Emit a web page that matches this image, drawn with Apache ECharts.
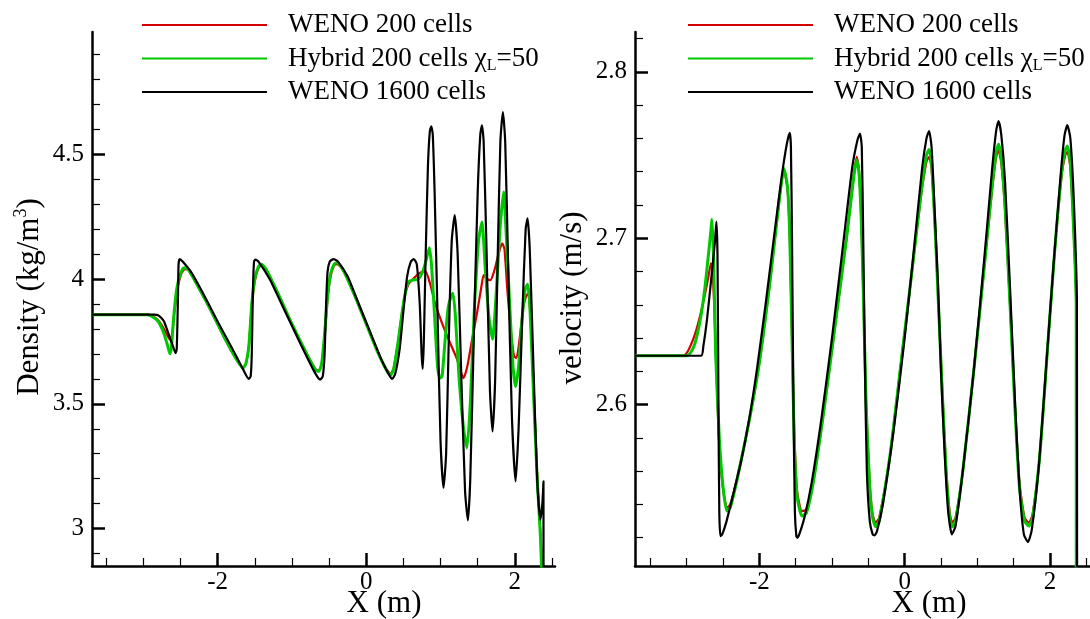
<!DOCTYPE html>
<html><head><meta charset="utf-8">
<script src="https://cdn.jsdelivr.net/npm/echarts@6/dist/echarts.min.js"></script>
<style>html,body{margin:0;padding:0;background:#fff}#c{width:1090px;height:619px}</style>
</head><body><div id="c"></div>
<script>
const seriesNames = ['WENO 200 cells', 'Hybrid 200 cells χL=50', 'WENO 1600 cells'];
const seriesColors = ['#d40000', '#00c800', '#000000'];

const xMajorTicks = [-2, 0, 2];
const xMinorTicks = [-3.5, -3, -2.5, -1.5, -1, -0.5, 0.5, 1, 1.5, 2.5];
const densMajorTicks = [3, 3.5, 4, 4.5];
const densMinorTicks = [2.9, 3.1, 3.2, 3.3, 3.4, 3.6, 3.7, 3.8, 3.9, 4.1, 4.2, 4.3, 4.4, 4.6, 4.7, 4.8, 4.9];
const velMajorTicks = [2.6, 2.7, 2.8];
const velMinorTicks = [2.52, 2.54, 2.56, 2.58, 2.62, 2.64, 2.66, 2.68, 2.72, 2.74, 2.76, 2.78, 2.82];

const densWeno200 = [[-3.69,3.857],[-2.95,3.857],[-2.88,3.852],[-2.80,3.835],[-2.72,3.80],[-2.67,3.77],[-2.635,3.756],[-2.61,3.78],[-2.58,3.87],[-2.54,3.96],[-2.49,4.02],[-2.44,4.04],[-2.38,4.035],[-2.3,3.99],[-2.1,3.88],[-1.9,3.76],[-1.75,3.68],[-1.66,3.645],[-1.62,3.66],[-1.58,3.73],[-1.54,3.89],[-1.50,3.99],[-1.45,4.045],[-1.41,4.055],[-1.35,4.04],[-1.2,3.95],[-1.0,3.82],[-0.8,3.70],[-0.68,3.638],[-0.64,3.632],[-0.60,3.66],[-0.56,3.77],[-0.52,3.92],[-0.48,4.01],[-0.43,4.055],[-0.39,4.06],[-0.3,4.03],[-0.15,3.93],[0.0,3.82],[0.15,3.71],[0.28,3.635],[0.33,3.62],[0.37,3.645],[0.43,3.75],[0.48,3.86],[0.525,3.94],[0.57,3.98],[0.63,4.0],[0.70,4.02],[0.76,4.03],[0.80,4.03],[0.86,3.98],[0.92,3.91],[0.98,3.855],[1.05,3.80],[1.13,3.743],[1.22,3.68],[1.27,3.63],[1.31,3.603],[1.36,3.65],[1.42,3.75],[1.49,3.863],[1.55,3.97],[1.58,4.016],[1.63,4.0],[1.67,3.996],[1.72,4.03],[1.78,4.10],[1.83,4.143],[1.86,4.12],[1.90,3.95],[1.95,3.78],[1.99,3.69],[2.02,3.683],[2.06,3.75],[2.11,3.88],[2.15,3.93],[2.18,3.943],[2.21,3.85],[2.26,3.5],[2.31,3.15],[2.35,2.95],[2.375,2.6],[2.38,1.0],[2.55,1.0]];

const densHybrid = [[-3.69,3.857],[-2.95,3.857],[-2.88,3.85],[-2.80,3.83],[-2.72,3.78],[-2.67,3.73],[-2.64,3.70],[-2.62,3.73],[-2.59,3.85],[-2.55,3.96],[-2.50,4.02],[-2.45,4.045],[-2.40,4.04],[-2.3,3.99],[-2.1,3.88],[-1.9,3.76],[-1.75,3.68],[-1.66,3.643],[-1.62,3.66],[-1.58,3.73],[-1.54,3.90],[-1.50,4.00],[-1.45,4.05],[-1.41,4.059],[-1.35,4.04],[-1.2,3.95],[-1.0,3.82],[-0.8,3.70],[-0.68,3.635],[-0.64,3.63],[-0.60,3.66],[-0.56,3.78],[-0.52,3.93],[-0.48,4.02],[-0.43,4.06],[-0.39,4.065],[-0.3,4.03],[-0.15,3.93],[0.0,3.82],[0.15,3.71],[0.28,3.63],[0.33,3.616],[0.37,3.64],[0.43,3.75],[0.48,3.86],[0.525,3.943],[0.57,3.99],[0.63,3.996],[0.70,4.0],[0.76,4.03],[0.81,4.08],[0.85,4.125],[0.88,4.05],[0.92,3.85],[0.96,3.65],[0.99,3.603],[1.02,3.61],[1.06,3.75],[1.10,3.88],[1.14,3.93],[1.167,3.943],[1.20,3.85],[1.25,3.6],[1.31,3.40],[1.355,3.323],[1.40,3.50],[1.45,3.85],[1.51,4.15],[1.557,4.229],[1.60,4.05],[1.65,3.85],[1.70,3.759],[1.75,3.95],[1.80,4.2],[1.848,4.349],[1.88,4.2],[1.93,3.9],[1.975,3.65],[2.01,3.569],[2.05,3.65],[2.10,3.85],[2.14,3.96],[2.171,3.979],[2.20,3.90],[2.25,3.55],[2.30,3.2],[2.342,2.98],[2.37,2.7],[2.38,1.0],[2.55,1.0]];

const densWeno1600 = [[-3.69,3.857],[-2.85,3.857],[-2.80,3.855],[-2.76,3.845],[-2.72,3.83],[-2.66,3.78],[-2.60,3.73],[-2.565,3.703],[-2.55,3.72],[-2.535,3.90],[-2.525,4.06],[-2.51,4.08],[-2.47,4.07],[-2.35,4.025],[-2.2,3.945],[-2.0,3.83],[-1.8,3.72],[-1.66,3.64],[-1.58,3.60],[-1.555,3.61],[-1.54,3.70],[-1.525,3.95],[-1.51,4.07],[-1.49,4.078],[-1.45,4.07],[-1.3,4.0],[-1.1,3.875],[-0.9,3.75],[-0.7,3.63],[-0.62,3.597],[-0.585,3.61],[-0.56,3.70],[-0.54,3.90],[-0.52,4.03],[-0.49,4.07],[-0.44,4.08],[-0.38,4.07],[-0.25,4.01],[-0.1,3.90],[0.05,3.79],[0.2,3.68],[0.3,3.62],[0.35,3.60],[0.39,3.62],[0.45,3.72],[0.5,3.87],[0.55,4.01],[0.6,4.07],[0.64,4.08],[0.68,4.06],[0.72,3.90],[0.745,3.70],[0.76,3.64],[0.775,3.75],[0.80,4.1],[0.83,4.45],[0.855,4.59],[0.875,4.612],[0.895,4.58],[0.92,4.35],[0.96,3.85],[1.0,3.35],[1.04,3.163],[1.075,3.3],[1.11,3.75],[1.15,4.15],[1.19,4.256],[1.23,4.1],[1.28,3.6],[1.33,3.15],[1.368,3.033],[1.40,3.2],[1.45,3.8],[1.50,4.35],[1.535,4.58],[1.557,4.616],[1.58,4.55],[1.62,4.1],[1.665,3.55],[1.70,3.389],[1.735,3.6],[1.77,4.1],[1.805,4.55],[1.839,4.669],[1.87,4.55],[1.91,4.05],[1.96,3.45],[2.01,3.189],[2.05,3.4],[2.10,3.85],[2.145,4.2],[2.171,4.243],[2.20,4.12],[2.25,3.65],[2.30,3.2],[2.342,3.036],[2.37,3.10],[2.385,3.189],[2.39,1.0],[2.55,1.0]];

const velWeno200 = [[-3.71,2.6294],[-3.05,2.6294],[-3.0,2.631],[-2.95,2.635],[-2.88,2.643],[-2.80,2.656],[-2.74,2.668],[-2.70,2.677],[-2.665,2.685],[-2.645,2.68],[-2.62,2.66],[-2.59,2.62],[-2.55,2.575],[-2.50,2.55],[-2.446,2.538],[-2.40,2.54],[-2.3,2.557],[-2.14,2.59],[-2.0,2.625],[-1.85,2.675],[-1.72,2.725],[-1.66,2.741],[-1.61,2.729],[-1.58,2.70],[-1.55,2.64],[-1.52,2.585],[-1.48,2.548],[-1.413,2.536],[-1.35,2.537],[-1.25,2.556],[-1.1,2.60],[-0.95,2.65],[-0.8,2.70],[-0.7,2.738],[-0.66,2.749],[-0.63,2.742],[-0.60,2.715],[-0.57,2.67],[-0.53,2.60],[-0.48,2.552],[-0.44,2.534],[-0.40,2.529],[-0.35,2.532],[-0.2,2.57],[-0.05,2.625],[0.1,2.68],[0.22,2.724],[0.30,2.746],[0.336,2.749],[0.37,2.742],[0.42,2.705],[0.47,2.655],[0.52,2.607],[0.57,2.562],[0.62,2.535],[0.655,2.529],[0.70,2.532],[0.8,2.56],[0.95,2.62],[1.1,2.685],[1.2,2.728],[1.26,2.749],[1.292,2.753],[1.33,2.745],[1.38,2.718],[1.45,2.66],[1.52,2.597],[1.58,2.553],[1.65,2.532],[1.71,2.529],[1.76,2.534],[1.86,2.57],[1.96,2.63],[2.06,2.69],[2.16,2.738],[2.21,2.75],[2.24,2.752],[2.28,2.742],[2.33,2.70],[2.36,2.66],[2.365,2.0],[2.6,2.0]];

const velHybrid = [[-3.71,2.6294],[-3.0,2.6294],[-2.95,2.631],[-2.90,2.635],[-2.859,2.641],[-2.80,2.654],[-2.746,2.671],[-2.70,2.69],[-2.665,2.705],[-2.652,2.7114],[-2.63,2.69],[-2.60,2.63],[-2.55,2.58],[-2.50,2.551],[-2.446,2.536],[-2.40,2.538],[-2.3,2.556],[-2.14,2.59],[-2.0,2.625],[-1.85,2.675],[-1.72,2.725],[-1.66,2.742],[-1.61,2.73],[-1.58,2.70],[-1.55,2.64],[-1.52,2.58],[-1.48,2.545],[-1.413,2.533],[-1.35,2.535],[-1.25,2.555],[-1.1,2.60],[-0.95,2.65],[-0.8,2.70],[-0.7,2.737],[-0.66,2.747],[-0.63,2.74],[-0.60,2.715],[-0.57,2.67],[-0.53,2.60],[-0.48,2.55],[-0.44,2.532],[-0.40,2.5266],[-0.35,2.53],[-0.2,2.57],[-0.05,2.625],[0.1,2.68],[0.22,2.725],[0.30,2.75],[0.336,2.7534],[0.37,2.745],[0.42,2.705],[0.47,2.655],[0.52,2.605],[0.57,2.56],[0.62,2.532],[0.655,2.5266],[0.70,2.53],[0.8,2.56],[0.95,2.62],[1.1,2.685],[1.2,2.73],[1.26,2.752],[1.292,2.7565],[1.33,2.748],[1.38,2.72],[1.45,2.66],[1.52,2.595],[1.58,2.55],[1.65,2.53],[1.71,2.527],[1.76,2.532],[1.86,2.57],[1.96,2.63],[2.06,2.69],[2.16,2.74],[2.21,2.753],[2.24,2.7554],[2.28,2.745],[2.33,2.70],[2.36,2.66],[2.365,2.0],[2.6,2.0]];

const velWeno1600 = [[-3.71,2.6294],[-2.80,2.6294],[-2.77,2.635],[-2.72,2.651],[-2.66,2.676],[-2.61,2.698],[-2.59,2.71],[-2.575,2.69],[-2.562,2.60],[-2.55,2.535],[-2.535,2.521],[-2.51,2.522],[-2.45,2.53],[-2.365,2.545],[-2.25,2.566],[-2.14,2.591],[-2.03,2.622],[-1.917,2.659],[-1.80,2.70],[-1.692,2.737],[-1.62,2.757],[-1.58,2.7634],[-1.565,2.755],[-1.55,2.70],[-1.53,2.60],[-1.51,2.535],[-1.49,2.521],[-1.476,2.520],[-1.45,2.522],[-1.38,2.532],[-1.28,2.553],[-1.15,2.59],[-1.0,2.64],[-0.85,2.695],[-0.72,2.743],[-0.65,2.759],[-0.615,2.763],[-0.59,2.755],[-0.57,2.70],[-0.545,2.62],[-0.52,2.56],[-0.48,2.53],[-0.44,2.522],[-0.413,2.5214],[-0.38,2.524],[-0.3,2.54],[-0.15,2.585],[0.0,2.64],[0.12,2.69],[0.24,2.742],[0.3,2.76],[0.336,2.7644],[0.37,2.755],[0.42,2.71],[0.46,2.671],[0.50,2.62],[0.55,2.571],[0.60,2.535],[0.65,2.522],[0.70,2.527],[0.8,2.56],[0.95,2.62],[1.1,2.69],[1.2,2.74],[1.26,2.765],[1.292,2.7704],[1.33,2.762],[1.38,2.735],[1.45,2.67],[1.52,2.60],[1.58,2.55],[1.64,2.522],[1.696,2.5174],[1.75,2.525],[1.85,2.565],[1.95,2.625],[2.05,2.685],[2.15,2.74],[2.2,2.762],[2.238,2.768],[2.28,2.76],[2.33,2.72],[2.37,2.66],[2.38,2.0],[2.6,2.0]];

const SERIF = '"Liberation Serif", "Times New Roman", serif';
const chart = echarts.init(document.getElementById('c'), null, {renderer: 'canvas'});

function majorX(gi, min, max) {
  return {type: 'value', gridIndex: gi, min: min, max: max, position: 'bottom',
    axisLine: {show: true, onZero: false, lineStyle: {color: '#000', width: 2.5}},
    axisTick: {show: true, inside: true, length: 13, customValues: xMajorTicks, lineStyle: {color: '#000', width: 2.5}},
    axisLabel: {show: true, customValues: xMajorTicks, fontFamily: SERIF, fontSize: 25, color: '#000', margin: 4},
    splitLine: {show: false}};
}
function minorX(gi, min, max) {
  return {type: 'value', gridIndex: gi, min: min, max: max, position: 'bottom',
    axisLine: {show: false, onZero: false},
    axisTick: {show: true, inside: true, length: 8, customValues: xMinorTicks, lineStyle: {color: '#000', width: 1.2}},
    axisLabel: {show: false}, splitLine: {show: false}};
}
function majorY(gi, min, max, ticks) {
  return {type: 'value', gridIndex: gi, min: min, max: max, position: 'left',
    axisLine: {show: true, onZero: false, lineStyle: {color: '#000', width: 2.5}},
    axisTick: {show: true, inside: true, length: 13, customValues: ticks, lineStyle: {color: '#000', width: 2.5}},
    axisLabel: {show: true, customValues: ticks, fontFamily: SERIF, fontSize: 25, color: '#000', margin: 8},
    splitLine: {show: false}};
}
function minorY(gi, min, max, ticks) {
  return {type: 'value', gridIndex: gi, min: min, max: max, position: 'left',
    axisLine: {show: false, onZero: false},
    axisTick: {show: true, inside: true, length: 8, customValues: ticks, lineStyle: {color: '#000', width: 1.2}},
    axisLabel: {show: false}, splitLine: {show: false}};
}

const widths = [2.2, 3, 2.2];
function mk(i, data, xi, yi) {
  return {name: seriesNames[i], type: 'line', data: data, xAxisIndex: xi, yAxisIndex: yi,
    symbol: 'none', showSymbol: false, clip: true, animation: false, z: 2 + i,
    smooth: 0.2,
    lineStyle: {color: seriesColors[i], width: widths[i], join: 'round'}, itemStyle: {color: seriesColors[i]}};
}

function legendCfg(left) {
  return {orient: 'vertical', left: left, top: 5, itemWidth: 125, itemHeight: 14, itemGap: 3.5,
    data: seriesNames, selectedMode: false,
    itemStyle: {opacity: 0},
    formatter: function (n) {
      if (n.indexOf('Hybrid') === 0) return '{g|}Hybrid 200 cells χ{sub|L}=50';
      return '{g|}' + n;
    },
    textStyle: {fontFamily: SERIF, fontSize: 27, color: '#000', lineHeight: 30,
      rich: {g: {width: 16, lineHeight: 30}, sub: {fontFamily: SERIF, fontSize: 16, lineHeight: 16, verticalAlign: 'bottom', color: '#000'}}}};
}

function title(x, y, rot, text, rich) {
  return {type: 'text', x: x, y: y, rotation: rot, silent: true,
    style: {text: text, fontFamily: SERIF, fontSize: 31, fill: '#000', align: 'center', verticalAlign: 'middle',
      textAlign: 'center', textVerticalAlign: 'middle', lineHeight: 36, rich: rich || {}}};
}

chart.setOption({
  animation: false,
  backgroundColor: '#fff',
  grid: [
    {left: 92, top: 32, width: 463, height: 534, containLabel: false},
    {left: 635, top: 32, width: 465, height: 534, containLabel: false}
  ],
  xAxis: [majorX(0, -3.69, 2.54), minorX(0, -3.69, 2.54), majorX(1, -3.71, 2.55), minorX(1, -3.71, 2.55)],
  yAxis: [majorY(0, 2.85, 4.99, densMajorTicks), minorY(0, 2.85, 4.99, densMinorTicks),
          majorY(1, 2.503, 2.824, velMajorTicks), minorY(1, 2.503, 2.824, velMinorTicks)],
  legend: [legendCfg(136), legendCfg(682)],
  series: [
    mk(0, densWeno200, 0, 0), mk(1, densHybrid, 0, 0), mk(2, densWeno1600, 0, 0),
    mk(0, velWeno200, 2, 2), mk(1, velHybrid, 2, 2), mk(2, velWeno1600, 2, 2)
  ],
  graphic: [
    title(30, 297, Math.PI / 2, 'Density (kg/m{sup|3})', {sup: {fontFamily: SERIF, fontSize: 18, lineHeight: 18, verticalAlign: 'top', fill: '#000', color: '#000'}}),
    title(573, 298, Math.PI / 2, 'velocity (m/s)'),
    title(384, 604, 0, 'X (m)'),
    title(929, 604, 0, 'X (m)')
  ]
});
</script>
</body></html>
